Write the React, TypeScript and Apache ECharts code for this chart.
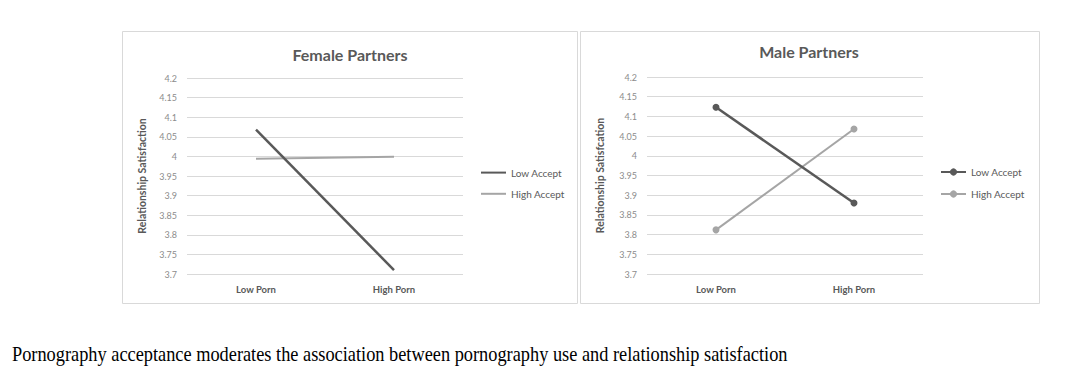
import React, { useEffect, useRef } from "react";
import * as echarts from "echarts";

const categories = ["Low Porn", "High Porn"];
const seriesNames = ["Low Accept", "High Accept"];
const femaleLowAccept = [4.068, 3.71];
const femaleHighAccept = [3.994, 3.999];
const maleLowAccept = [4.123, 3.88];
const maleHighAccept = [3.812, 4.068];
const yMin = 3.7;
const yMax = 4.2;
const yStep = 0.05;

const DARK = "#595959";
const LIGHT = "#a5a5a5";
const FONT = "Lato";

export default function App() {
  const ref = useRef<HTMLDivElement>(null);
  useEffect(() => {
    if (!ref.current) return;
    const chart = echarts.init(ref.current, undefined, { renderer: "svg" });

    const grids = [
      { left: 187, top: 78, width: 276, height: 196 },
      { left: 647, top: 77, width: 276, height: 197 },
    ];
    const yNames = ["Relationship Satisfaction", "Relationship Satisfcation"];
    const titles = [
      { text: "Female Partners", left: 350, top: 46 },
      { text: "Male Partners", left: 809, top: 43 },
    ];

    const mkX = (i: number) => ({
      type: "category",
      gridIndex: i,
      data: categories,
      boundaryGap: true,
      axisLine: { show: false },
      axisTick: { show: false },
      axisLabel: { color: DARK, fontFamily: FONT, fontWeight: "bold", fontSize: 9.5, margin: 10 },
    });
    const mkY = (i: number) => ({
      type: "value",
      gridIndex: i,
      min: yMin,
      max: yMax,
      interval: yStep,
      name: yNames[i],
      nameLocation: "middle",
      nameGap: i === 0 ? 40 : 42,
      nameTextStyle: { color: DARK, fontFamily: FONT, fontWeight: "bold", fontSize: 10.5 },
      axisLine: { show: false },
      axisTick: { show: false },
      splitLine: { lineStyle: { color: "#d9d9d9", width: 1 } },
      axisLabel: {
        color: "#8c8c8c",
        fontFamily: FONT,
        fontSize: 9,
        margin: 10,
        formatter: (v: number) => String(Math.round(v * 100) / 100),
      },
    });

    const mkSeries = (prefix: string, idx: number, data: number[], name: string, color: string, width: number, withSymbol: boolean) => ({
      type: "line",
      name: prefix + name,
      xAxisIndex: idx,
      yAxisIndex: idx,
      data,
      symbol: withSymbol ? "circle" : "none",
      symbolSize: 7,
      showSymbol: withSymbol,
      itemStyle: { color },
      lineStyle: { color, width },
      z: name === seriesNames[0] ? 3 : 2,
    });

    const legendCommon = {
      orient: "vertical",
      padding: 0,
      itemWidth: 25,
      textStyle: { color: DARK, fontFamily: FONT, fontSize: 10 },
      formatter: (n: string) => n.split(": ")[1],
      selectedMode: false,
    };

    chart.setOption({
      animation: false,
      backgroundColor: "#ffffff",
      title: titles.map((t) => ({
        text: t.text,
        left: t.left,
        top: t.top,
        padding: 0,
        textAlign: "center",
        textStyle: { color: DARK, fontFamily: FONT, fontWeight: "bold", fontSize: 16 },
      })),
      grid: grids,
      xAxis: [mkX(0), mkX(1)],
      yAxis: [mkY(0), mkY(1)],
      legend: [
        {
          ...legendCommon,
          left: 480,
          top: 167,
          itemHeight: 14,
          itemGap: 10,
          itemStyle: { opacity: 0 },
          data: ["F: " + seriesNames[0], "F: " + seriesNames[1]],
        },
        {
          ...legendCommon,
          left: 940,
          top: 167,
          itemHeight: 9,
          itemGap: 12,
          data: ["M: " + seriesNames[0], "M: " + seriesNames[1]],
        },
      ],
      series: [
        mkSeries("F: ", 0, femaleLowAccept, seriesNames[0], DARK, 2.5, false),
        mkSeries("F: ", 0, femaleHighAccept, seriesNames[1], LIGHT, 2, false),
        mkSeries("M: ", 1, maleLowAccept, seriesNames[0], DARK, 2.5, true),
        mkSeries("M: ", 1, maleHighAccept, seriesNames[1], LIGHT, 2, true),
      ],
      graphic: [
        { type: "rect", shape: { x: 122.5, y: 31.5, width: 455, height: 272 }, style: { fill: "none", stroke: "#d9d9d9", lineWidth: 1 }, z: -1 },
        { type: "rect", shape: { x: 580.5, y: 31.5, width: 459, height: 272 }, style: { fill: "none", stroke: "#d9d9d9", lineWidth: 1 }, z: -1 },
        {
          type: "text",
          x: 12,
          y: 354,
          scaleX: 0.917,
          style: {
            text: "Pornography acceptance moderates the association between pornography use and relationship satisfaction",
            font: '20px "Liberation Serif"',
            fill: "#000000",
            verticalAlign: "middle",
          },
        },
      ],
    });
    return () => chart.dispose();
  }, []);
  return <div ref={ref} style={{ position: "fixed", left: 0, top: 0, width: 1080, height: 377 }} />;
}
